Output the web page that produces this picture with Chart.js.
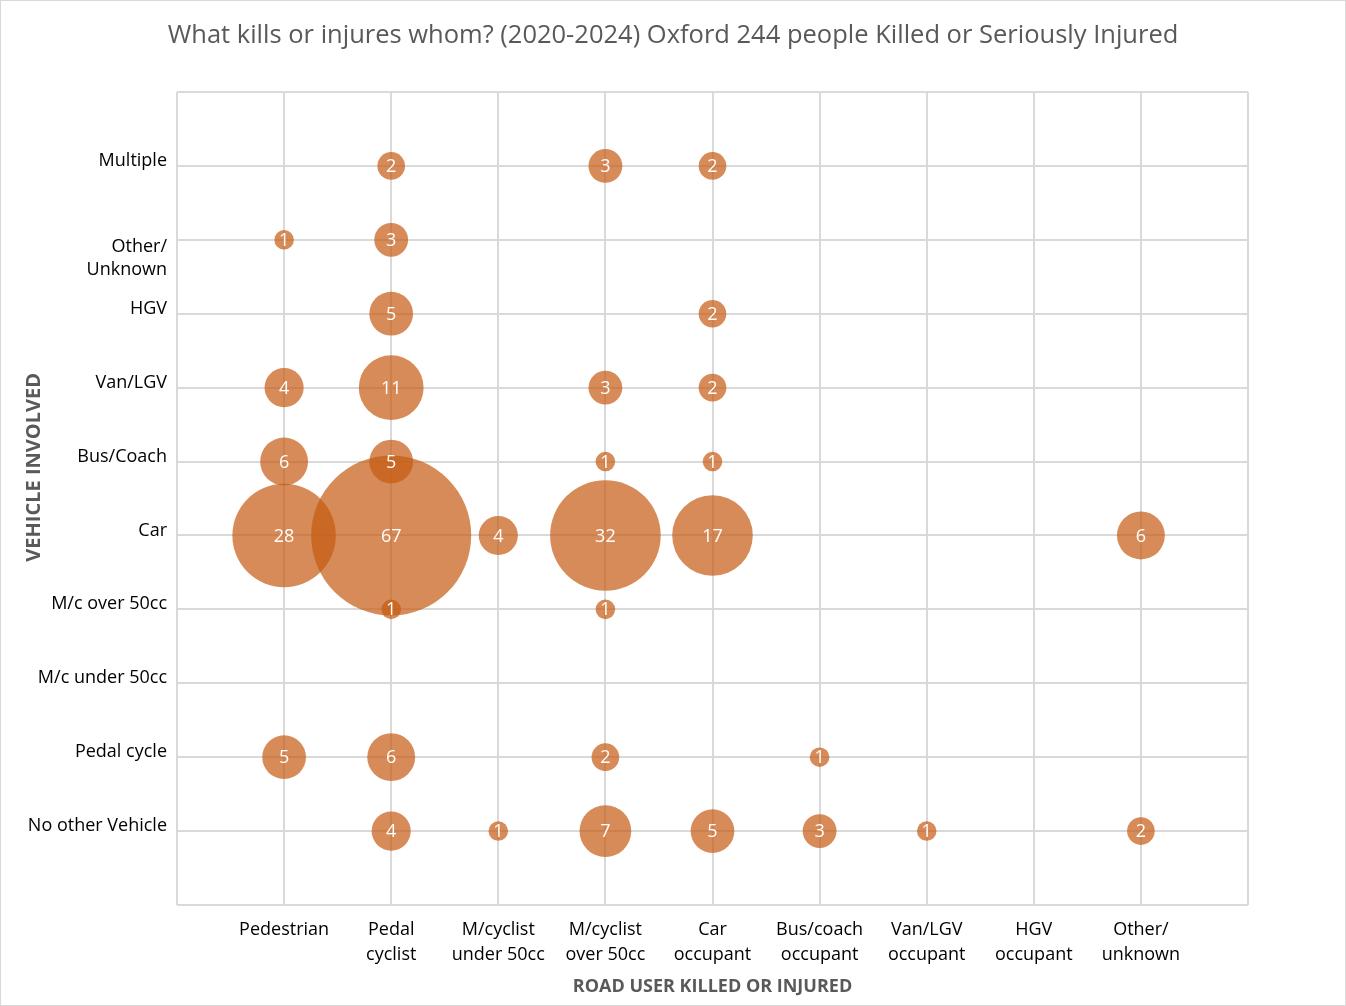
<!DOCTYPE html>
<html>
<head>
<meta charset="utf-8">
<script src="https://cdn.jsdelivr.net/npm/chart.js@4.4.1/dist/chart.umd.min.js"></script>
<style>
  html, body { margin: 0; padding: 0; background: #fff; }
  #wrap { width: 1346px; height: 1006px; }
</style>
</head>
<body>
<div id="wrap"><canvas id="chartKsi"></canvas></div>
<script>
// x: road user killed or injured, y: vehicle involved
const roadUsers = [
  'Pedestrian', ['Pedal', 'cyclist'], ['M/cyclist', 'under 50cc'], ['M/cyclist', 'over 50cc'],
  ['Car', 'occupant'], ['Bus/coach', 'occupant'], ['Van/LGV', 'occupant'], ['HGV', 'occupant'],
  ['Other/', 'unknown']
];
const vehicles = [
  'No other Vehicle', 'Pedal cycle', 'M/c under 50cc', 'M/c over 50cc', 'Car',
  'Bus/Coach', 'Van/LGV', 'HGV', ['', '', 'Other/', 'Unknown'], 'Multiple'
];

// counts per vehicle, in roadUsers order
const noOtherVehicle = [0, 4, 1, 7, 5, 3, 1, 0, 2];
const pedalCycle     = [5, 6, 0, 2, 0, 1, 0, 0, 0];
const mcUnder50      = [0, 0, 0, 0, 0, 0, 0, 0, 0];
const mcOver50       = [0, 1, 0, 1, 0, 0, 0, 0, 0];
const car            = [28, 67, 4, 32, 17, 0, 0, 0, 6];
const busCoach       = [6, 5, 0, 1, 1, 0, 0, 0, 0];
const vanLgv         = [4, 11, 0, 3, 2, 0, 0, 0, 0];
const hgv            = [0, 5, 0, 0, 2, 0, 0, 0, 0];
const otherUnknown   = [1, 3, 0, 0, 0, 0, 0, 0, 0];
const multiple       = [0, 2, 0, 3, 2, 0, 0, 0, 0];

const rows = [noOtherVehicle, pedalCycle, mcUnder50, mcOver50, car,
              busCoach, vanLgv, hgv, otherUnknown, multiple];

const points = [];
rows.forEach((row, yi) => {
  row.forEach((v, xi) => {
    if (v > 0) points.push({ x: xi + 1, y: yi + 1, v: v });
  });
});

const maxValue = Math.max(...rows.flat());
const maxRadius = 80;
const FONT = "'Open Sans', 'Noto Sans', sans-serif";

const bubbleLabels = {
  id: 'bubbleLabels',
  afterDatasetsDraw(chart) {
    const c = chart.ctx;
    const meta = chart.getDatasetMeta(0);
    c.save();
    c.fillStyle = '#ffffff';
    c.font = '18px ' + FONT;
    c.textAlign = 'center';
    c.textBaseline = 'middle';
    meta.data.forEach((el, i) => {
      c.fillText(String(points[i].v), el.x, el.y + 1);
    });
    c.restore();
  }
};

const background = {
  id: 'background',
  beforeDraw(chart) {
    const c = chart.ctx;
    c.save();
    c.fillStyle = '#ffffff';
    c.fillRect(0, 0, chart.width, chart.height);
    c.strokeStyle = '#d9d9d9';
    c.lineWidth = 1;
    c.strokeRect(0.5, 0.5, chart.width - 1, chart.height - 1);
    c.restore();
  }
};

const ctx = document.getElementById('chartKsi');
new Chart(ctx, {
  type: 'bubble',
  data: {
    datasets: [{
      label: 'KSI',
      data: points,
      backgroundColor: 'rgba(197, 90, 17, 0.7)',
      borderWidth: 0,
      radius: (c) => c.raw ? maxRadius * Math.sqrt(c.raw.v / maxValue) : 0
    }]
  },
  options: {
    responsive: true,
    maintainAspectRatio: false,
    animation: false,
    events: [],
    layout: { padding: 0 },
    plugins: {
      legend: { display: false },
      tooltip: { enabled: false },
      title: {
        display: true,
        text: 'What kills or injures whom? (2020-2024) Oxford 244 people Killed or Seriously Injured',
        color: '#595959',
        font: { family: FONT, size: 25.5, weight: 'normal', lineHeight: 1.2 },
        padding: { top: 20, bottom: 41.4 }
      }
    },
    scales: {
      x: {
        type: 'linear',
        min: 0,
        max: 10,
        afterFit: (s) => { s.height = 101; },
        grid: { color: '#d9d9d9', lineWidth: 2, drawTicks: false },
        border: { display: false },
        ticks: {
          stepSize: 1,
          autoSkip: false,
          maxRotation: 0,
          padding: 12,
          color: '#000000',
          font: { family: FONT, size: 18, lineHeight: 1.4 },
          callback: (val) => roadUsers[val - 1] || ''
        },
        title: {
          display: true,
          text: 'ROAD USER KILLED OR INJURED',
          color: '#595959',
          font: { family: FONT, size: 18, weight: 'bold', lineHeight: 1.2 },
          padding: { top: 0, bottom: 8 }
        }
      },
      y: {
        type: 'linear',
        min: 0,
        max: 11,
        afterFit: (s) => { s.width = 177; },
        grid: { color: '#d9d9d9', lineWidth: 2, drawTicks: false },
        border: { display: false },
        ticks: {
          stepSize: 1,
          autoSkip: false,
          padding: 10,
          labelOffset: -5,
          color: '#000000',
          font: (c) => ({ family: FONT, size: 18, lineHeight: c.tick && c.tick.value === 9 ? 1.3 : 1.4 }),
          callback: (val) => vehicles[val - 1] || ''
        },
        title: {
          display: true,
          text: '\u00A0'.repeat(12) + 'VEHICLE INVOLVED',
          color: '#595959',
          font: { family: FONT, size: 20, weight: 'bold', lineHeight: 1.2 },
          padding: { top: 22, bottom: 0 }
        }
      },
      // empty right-hand axis, only keeps the plot clear of the right edge
      yRight: {
        type: 'linear',
        position: 'right',
        display: true,
        afterFit: (s) => { s.width = 98; },
        grid: { display: false },
        border: { display: false },
        ticks: { display: false }
      }
    }
  },
  plugins: [background, bubbleLabels]
});
</script>
</body>
</html>
